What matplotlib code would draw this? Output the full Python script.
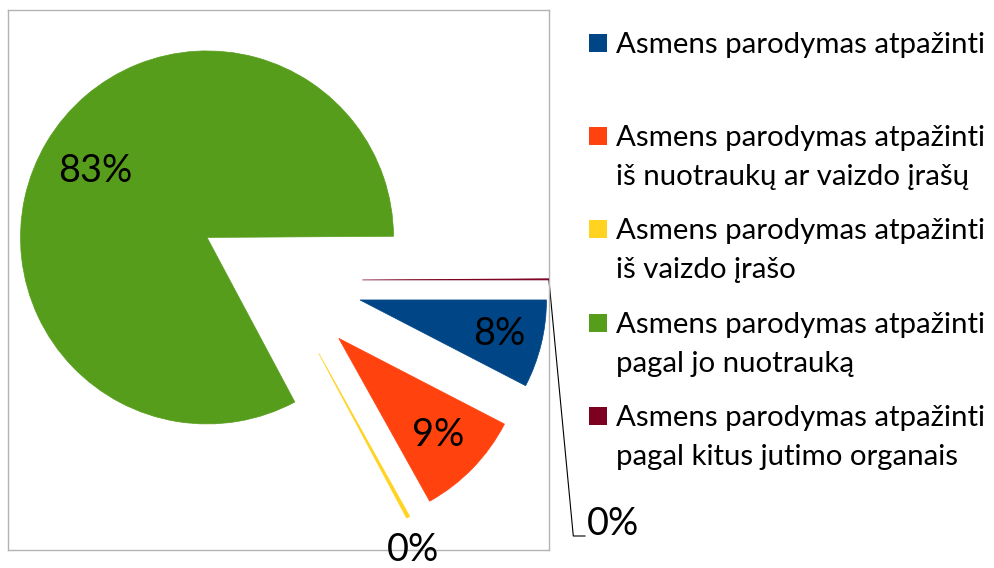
import numpy as np
import matplotlib
matplotlib.use('Agg')
from matplotlib import pyplot as plt
from matplotlib.patches import Rectangle

categories = [
    'Asmens parodymas atpažinti',
    'Asmens parodymas atpažinti\niš nuotraukų ar vaizdo įrašų',
    'Asmens parodymas atpažinti\niš vaizdo įrašo',
    'Asmens parodymas atpažinti\npagal jo nuotrauką',
    'Asmens parodymas atpažinti\npagal kitus jutimo organais',
]
values = [7.6, 9.3, 0.3, 82.7, 0.1]
colors = ['#004586', '#ff420e', '#ffd320', '#579d1c', '#7e0021']

W, H = 995, 568
R = 186.5              # pie radius, px
cx, cy = 278.8, 280.2  # pie centre, px from top-left

def to_data(px, py):
    return (px - cx) / R, (cy - py) / R

plt.rcParams['font.family'] = ['Lato', 'DejaVu Sans']
fig = plt.figure(figsize=(W / 100, H / 100), dpi=100)
ax = fig.add_axes([8 / W, (H - 550) / H, 541 / W, 540 / H])

wedges, _ = ax.pie(values, colors=colors, startangle=0, counterclock=False,
                   explode=[0.448] * len(values), radius=1,
                   wedgeprops=dict(linewidth=0))
# thin slices need an edge to stay visible
for w, c in zip(wedges, colors):
    w.set_edgecolor(c)
    w.set_linewidth(0.5)

ax.set_frame_on(True)
x0, y0 = to_data(8, 550)
x1, y1 = to_data(549, 10)
ax.set_xlim(x0, x1)
ax.set_ylim(y0, y1)
ax.set_xticks([])
ax.set_yticks([])
for s in ax.spines.values():
    s.set_color('#b3b3b3')
    s.set_linewidth(1.0)

# percentage labels
label_dist = [0.77, 0.745, 1.17, 0.70]
label_turn = [0, 0, -3, 0]
for i, w in enumerate(wedges[:4]):
    mid = np.radians((w.theta1 + w.theta2) / 2 + label_turn[i])
    px = w.center[0] + label_dist[i] * np.cos(mid)
    py = w.center[1] + label_dist[i] * np.sin(mid)
    ax.text(px, py, '{:.0f}%'.format(values[i]), ha='center', va='center',
            fontsize=27.3, color='black', clip_on=False)

# last slice: label with leader line
w = wedges[4]
mid = np.radians((w.theta1 + w.theta2) / 2)
tip = (w.center[0] + np.cos(mid), w.center[1] + np.sin(mid))
bx, by = to_data(573.3, 536)
ex, ey = to_data(585, 536)
ax.plot([tip[0], bx, ex], [tip[1], by, ey], color='black', lw=0.8, clip_on=False)
tx, ty = to_data(587.3, 535)
ax.text(tx, ty, '{:.0f}%'.format(values[4]), ha='left', va='baseline',
        fontsize=27.3, color='black', clip_on=False)

# legend
baselines = [53.3, 146, 239.3, 332.7, 426]
for i, lab in enumerate(categories):
    b = baselines[i]
    fig.add_artist(Rectangle((589 / W, 1 - (b - 1) / H), 18 / W, 18 / H,
                             transform=fig.transFigure, color=colors[i], lw=0))
    for j, line in enumerate(lab.split('\n')):
        fig.text(615.7 / W, 1 - (b + 39 * j) / H, line, ha='left', va='baseline',
                 fontsize=21.2, color='black')

fig.savefig('out.png', dpi=100)
